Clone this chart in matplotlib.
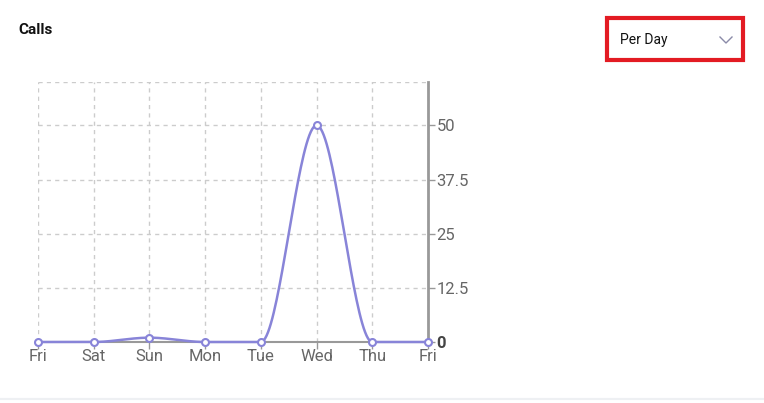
import numpy as np
import matplotlib.pyplot as plt
from matplotlib.patches import Rectangle, FancyBboxPatch

plt.rcParams['font.family'] = ['Roboto', 'DejaVu Sans']

days = ['Fri', 'Sat', 'Sun', 'Mon', 'Tue', 'Wed', 'Thu', 'Fri']
calls = [0, 0, 1, 0, 0, 50, 0, 0]
y_ticks = [0, 12.5, 25, 37.5, 50]
y_tick_labels = ['0', '12.5', '25', '37.5', '50']

line_color = '#8884d8'
axis_color = '#999999'
text_color = '#666666'


def monotone_curve(x, y, n=40):
    # monotone cubic (Fritsch-Carlson), like d3 curveMonotoneX
    x = np.asarray(x, float)
    y = np.asarray(y, float)
    h = np.diff(x)
    d = np.diff(y) / h
    m = np.zeros_like(y)
    m[0], m[-1] = d[0], d[-1]
    for i in range(1, len(y) - 1):
        if d[i - 1] * d[i] <= 0:
            m[i] = 0
        else:
            w1 = 2 * h[i] + h[i - 1]
            w2 = h[i] + 2 * h[i - 1]
            m[i] = (w1 + w2) / (w1 / d[i - 1] + w2 / d[i])
    xs, ys = [], []
    for i in range(len(x) - 1):
        t = np.linspace(0, 1, n)
        h00 = 2 * t**3 - 3 * t**2 + 1
        h10 = t**3 - 2 * t**2 + t
        h01 = -2 * t**3 + 3 * t**2
        h11 = t**3 - t**2
        xs.append(x[i] + t * h[i])
        ys.append(h00 * y[i] + h10 * h[i] * m[i] + h01 * y[i + 1] + h11 * h[i] * m[i + 1])
    return np.concatenate(xs), np.concatenate(ys)


fig = plt.figure(figsize=(7.64, 4.03), dpi=100)
fig.patch.set_facecolor('white')

# card outline
card = FancyBboxPatch((-0.02, 0.01), 1.04, 1.2, boxstyle='round,pad=0,rounding_size=0.02',
                      transform=fig.transFigure, facecolor='white', edgecolor='#eef0f3', lw=1.5,
                      zorder=-5)
fig.patches.append(card)

fig.text(18 / 764, 1 - 30 / 403, 'Calls', fontsize=11, fontweight='bold', color='#111111',
         va='center', ha='left')

# dropdown
box = Rectangle((607 / 764, 1 - 60 / 403), 136 / 764, 42 / 403, transform=fig.transFigure,
                facecolor='white', edgecolor='#e31b23', lw=3)
fig.patches.append(box)
fig.text(620 / 764, 1 - 40 / 403, 'Per Day', fontsize=10, color='#111111', va='center', ha='left')
fig.lines.append(plt.Line2D([720 / 764, 726 / 764, 732 / 764],
                            [1 - 37 / 403, 1 - 43 / 403, 1 - 37 / 403],
                            transform=fig.transFigure, color='#8a8aa8', lw=1))

ax = fig.add_axes([38 / 764, 1 - 342 / 403, 390 / 764, 260 / 403], zorder=2)
ax.patch.set_alpha(0)
x = np.arange(len(days))
ax.set_xlim(0, len(days) - 1)
ax.set_ylim(0, 60)

for xi in x:
    ax.axvline(xi, color='#cccccc', lw=1, ls=(0, (3, 3)), zorder=0)
for yv in y_ticks[1:] + [60]:
    ax.axhline(yv, color='#cccccc', lw=1, ls=(0, (3, 3)), zorder=0)

cx, cy = monotone_curve(x, calls)
ax.plot(cx, cy, color=line_color, lw=1.8, zorder=3, clip_on=False)
ax.plot(x, calls, 'o', ms=5, mfc='white', mec=line_color, mew=1.5, zorder=4, clip_on=False)

for side in ['top', 'left']:
    ax.spines[side].set_visible(False)
ax.spines['right'].set_color(axis_color)
ax.spines['right'].set_linewidth(2)
ax.spines['bottom'].set_color(axis_color)
ax.spines['bottom'].set_linewidth(1.5)

ax.set_xticks(x)
ax.set_xticklabels(days)
ax.yaxis.tick_right()
ax.set_yticks(y_ticks)
ax.set_yticklabels(y_tick_labels)
ax.tick_params(axis='both', colors=axis_color, labelcolor=text_color, labelsize=12,
               length=5, width=1, pad=1)
ax.tick_params(axis='x', pad=0)
zero_label = ax.get_yticklabels()[0]
zero_label.set_fontweight('bold')
zero_label.set_color('#444444')

fig.savefig('out.png', dpi=100)
